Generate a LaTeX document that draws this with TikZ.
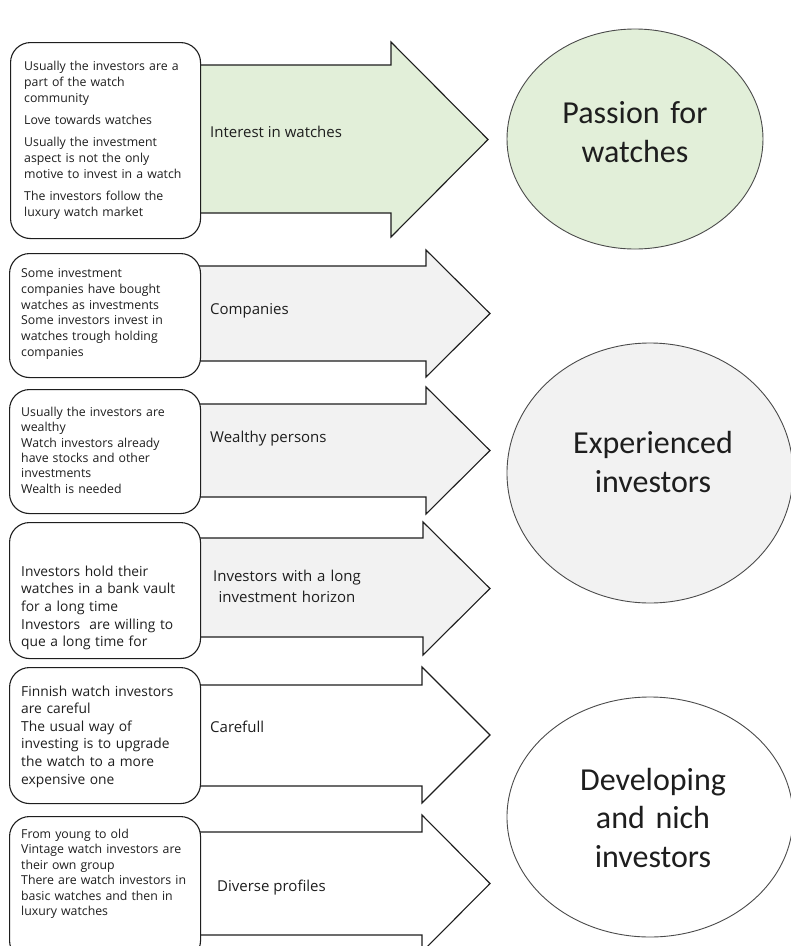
\documentclass[tikz,border=0pt]{standalone}
\usepackage{fontspec}
\setmainfont{Open Sans}
\newfontfamily\circfont{Carlito}
\usetikzlibrary{shapes.geometric}
\definecolor{lgreen}{HTML}{E2EFD9}
\definecolor{lgray}{HTML}{F2F2F2}
\definecolor{inkc}{HTML}{1E1E1E}
\begin{document}
\begin{tikzpicture}[x=1pt,y=-1pt,
  infobox/.style={draw=inkc, line width=1.1pt, rounded corners=20pt, fill=white, anchor=north west, inner sep=0pt},
  bigarrow/.style={draw=inkc, line width=1.1pt, line join=miter},
  smalltext/.style={anchor=base west, inner sep=0pt, text width=185pt, align=left, text=inkc, font=\fontsize{12.3}{16}\selectfont},
  midtext/.style={anchor=base west, inner sep=0pt, text width=185pt, align=left, text=inkc, font=\fontsize{13.8}{17.7}\selectfont},
  arrowlabel/.style={anchor=base west, inner sep=0pt, text=inkc, font=\fontsize{15}{21}\selectfont},
  group/.style={ellipse, draw=inkc!80, line width=0.9pt, inner sep=0pt},
  grouptext/.style={anchor=base, inner sep=0pt, text width=250pt, align=center, text=inkc, font=\circfont\fontsize{32}{39}\selectfont}
]
\clip (0,0) rectangle (791,946);
\fill[white] (0,0) rectangle (791,946);

% arrows
\filldraw[bigarrow, fill=lgreen] (190,65) -- (391,65) -- (391,42) -- (488,139.5) -- (391,237) -- (391,213) -- (190,213) -- cycle;
\filldraw[bigarrow, fill=lgray] (190,266) -- (426,266) -- (426,250) -- (490,313.5) -- (426,377) -- (426,361) -- (190,361) -- cycle;
\filldraw[bigarrow, fill=lgray] (190,404) -- (426,404) -- (426,387) -- (490,450.5) -- (426,514) -- (426,497) -- (190,497) -- cycle;
\filldraw[bigarrow, fill=lgray] (190,538) -- (423,538) -- (423,522) -- (490,588.5) -- (423,655) -- (423,637) -- (190,637) -- cycle;
\filldraw[bigarrow, fill=white] (190,685) -- (422,685) -- (422,667) -- (490,735) -- (422,803) -- (422,786) -- (190,786) -- cycle;
\filldraw[bigarrow, fill=white] (190,832) -- (422,832) -- (422,815) -- (490,883.5) -- (422,952) -- (422,935) -- (190,935) -- cycle;

% boxes
\node[infobox, minimum width=190pt, minimum height=196pt] (b1) at (10,42) {};
\node[infobox, minimum width=191pt, minimum height=124pt] (b2) at (9,253) {};
\node[infobox, minimum width=191pt, minimum height=124pt] (b3) at (9,389) {};
\node[infobox, minimum width=191pt, minimum height=136pt] (b4) at (9,522) {};
\node[infobox, minimum width=191pt, minimum height=136pt] (b5) at (9,667) {};
\node[infobox, minimum width=191pt, minimum height=144pt] (b6) at (9,816) {};

% box texts
\node[smalltext] (t1) at (24,70) {Usually the investors are a\\part of the watch\\community\\[6pt]Love towards watches\\[6pt]Usually the investment\\aspect is not the only\\motive to invest in a watch\\[6pt]The investors follow the\\luxury watch market};
\node[smalltext, font=\fontsize{12.3}{15.8}\selectfont] (t2) at (21,277.5) {Some investment\\companies have bought\\watches as investments\\Some investors invest in\\watches trough holding\\companies};
\node[smalltext, font=\fontsize{12.3}{15.3}\selectfont] (t3) at (21,416.5) {Usually the investors are\\wealthy\\Watch investors already\\have stocks and other\\investments\\Wealth is needed};
\node[midtext] (t4) at (21,576) {Investors hold their\\watches in a bank vault\\for a long time\\Investors\ \ are willing to\\que a long time for};
\node[midtext, font=\fontsize{13.8}{17.6}\selectfont] (t5) at (21,696) {Finnish watch investors\\are careful\\The usual way of\\investing is to upgrade\\the watch to a more\\expensive one};
\node[smalltext, font=\fontsize{12.3}{15.4}\selectfont] (t6) at (21,838.5) {From young to old\\Vintage watch investors are\\their own group\\There are watch investors in\\basic watches and then in\\luxury watches};

% arrow labels
\node[arrowlabel] (l1) at (210,137.5) {Interest in watches};
\node[arrowlabel] (l2) at (210,314.5) {Companies};
\node[arrowlabel] (l3) at (210,442.5) {Wealthy persons};
\node[arrowlabel, anchor=base, text width=180pt, align=center] (l4) at (287,581.5) {Investors with a long\\investment horizon};
\node[arrowlabel] (l5) at (210,732.5) {Carefull};
\node[arrowlabel] (l6) at (217,891.5) {Diverse profiles};

% groups
\node[group, fill=lgreen, minimum width=256pt, minimum height=220pt] (g1) at (635,139) {};
\node[group, fill=lgray, minimum width=286pt, minimum height=260pt] (g2) at (650,473) {};
\node[group, fill=white, minimum width=286pt, minimum height=240pt] (g3) at (650,817) {};
\node[grouptext] (gt1) at (635,123) {Passion for\\watches};
\node[grouptext] (gt2) at (653,453) {Experienced\\investors};
\node[grouptext, font=\circfont\fontsize{32}{38.5}\selectfont] (gt3) at (653,790) {Developing\\and nich\\investors};
\end{tikzpicture}
\end{document}
